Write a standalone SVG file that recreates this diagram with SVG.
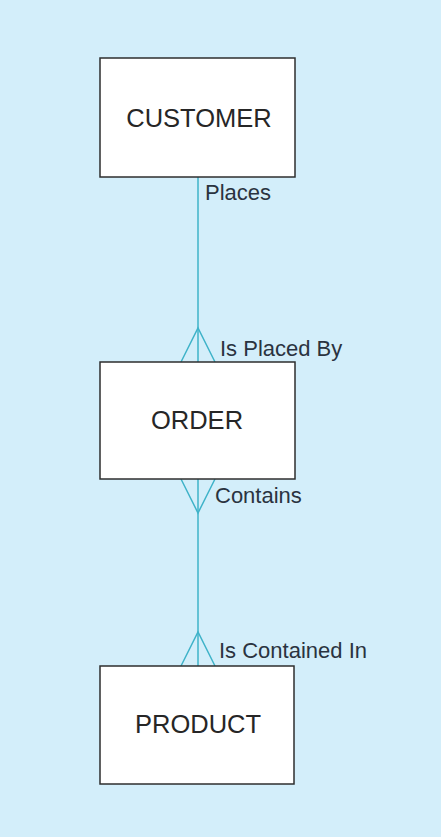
<svg xmlns="http://www.w3.org/2000/svg" width="441" height="837" viewBox="0 0 441 837">
<style>
.ent{fill:#ffffff;stroke:#2e2e2e;stroke-width:1.5}
.et{font-family:"Liberation Sans",Arial,sans-serif;font-size:25.5px;fill:#262626;text-anchor:middle}
.lb{font-family:"Liberation Sans",Arial,sans-serif;font-size:22px;fill:#2a3340}
.cn{fill:none;stroke:#3fb3c9;stroke-width:1.5}
</style>
<rect x="0" y="0" width="441" height="837" fill="#d3eefa"/>
<g id="connectors">
<line class="cn" x1="198" y1="177" x2="198" y2="362"/>
<polyline class="cn" points="181,362 198,328 215,362"/>
<line class="cn" x1="198" y1="479" x2="198" y2="666"/>
<polyline class="cn" points="181,479 198,513 215,479"/>
<polyline class="cn" points="181,666 198,632 215,666"/>
<text class="lb" x="205" y="200">Places</text>
<text class="lb" x="220" y="356">Is Placed By</text>
<text class="lb" x="215" y="503">Contains</text>
<text class="lb" x="219" y="658">Is Contained In</text>
</g>
<g id="customer">
<rect class="ent" x="100" y="58" width="195" height="119"/>
<text class="et" x="199" y="127">CUSTOMER</text>
</g>
<g id="order">
<rect class="ent" x="100" y="362" width="195" height="117"/>
<text class="et" x="197" y="429">ORDER</text>
</g>
<g id="product">
<rect class="ent" x="100" y="666" width="194" height="118"/>
<text class="et" x="198" y="733">PRODUCT</text>
</g>
</svg>
